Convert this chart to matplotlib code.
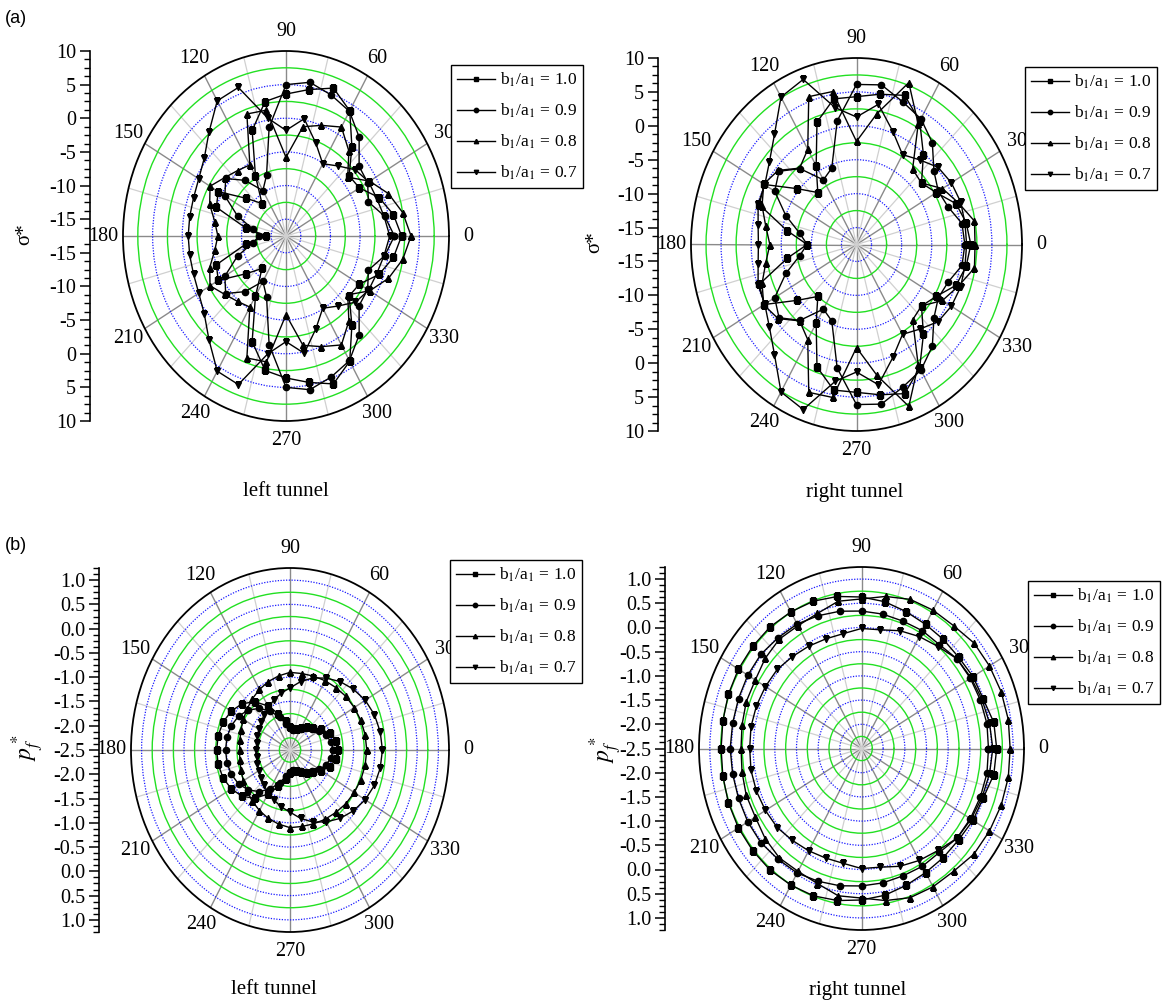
import numpy as np
import matplotlib
matplotlib.use('Agg')
import matplotlib.pyplot as plt

plt.rcParams['font.family'] = ['Liberation Serif', 'DejaVu Serif']
plt.rcParams['mathtext.fontset'] = 'stix'

W, H = 1163, 1001

# angles (upper half, curves are symmetric about 0-180)
angles = list(range(0, 181, 10))

# (a) sigma*, left tunnel
aL_10 = [2.0, 0.9, -0.8, -3.2, -3.6, -0.2, 4.0, 5.9, 4.6, 3.6, 2.8, -0.8, -7.2, -11.2, -8.8, -4.3, -5.0, -10.6, -14.2]
aL_09 = [0.8, -0.6, -2.7, -1.6, -1.4, 1.7, 3.9, 4.8, 5.7, 5.0, -1.1, -7.9, -9.7, -6.7, -4.2, -5.6, -8.8, -11.9, -13.0]
aL_08 = [3.6, 2.5, 0.9, -1.2, -3.9, -1.0, 1.2, 0.0, -1.0, -5.8, 1.5, 1.8, -5.3, -4.8, -4.0, -2.7, -3.8, -5.3, -6.0]
aL_07 = [0.0, -0.7, -1.2, -1.4, -2.2, -3.9, -5.1, -2.8, 0.2, -1.8, 0.3, 6.0, 5.7, 2.7, 0.5, -0.5, -0.9, -1.0, -1.0]

# (a) sigma*, right tunnel
aR_10 = [1.5, 1.0, 0.1, -2.2, -3.4, -0.2, 3.5, 5.9, 5.0, 4.3, 4.3, 1.7, -4.1, -7.5, -4.7, 0.2, -0.3, -5.8, -9.3]
aR_09 = [0.5, 0.3, -1.3, -1.8, -0.7, 2.1, 3.9, 4.9, 6.4, 6.1, 1.0, -5.5, -6.5, -2.9, -0.7, -1.8, -5.0, -7.9, -9.3]
aR_08 = [2.2, 2.4, 0.5, -1.0, -3.4, -3.0, 3.0, 7.9, 2.1, -2.3, 5.4, 5.7, -1.3, -2.8, -0.5, 0.3, -0.8, -2.2, -3.1]
aR_07 = [0.8, 0.8, 0.9, 0.7, 0.2, -1.2, -2.2, 0.2, 3.5, 1.3, 3.0, 8.4, 7.6, 3.7, 1.4, 0.1, -0.1, -0.9, -1.2]

# (b) p_f*, left tunnel
bL_10 = [-1.36, -1.40, -1.50, -1.65, -1.78, -1.88, -1.97, -2.03, -2.06, -2.02, -1.90, -1.70, -1.45, -1.20, -1.02, -0.90, -0.82, -0.78, -0.77]
bL_09 = [-1.48, -1.52, -1.60, -1.70, -1.82, -1.92, -2.00, -2.05, -2.08, -2.05, -1.95, -1.78, -1.58, -1.38, -1.22, -1.10, -1.03, -0.99, -0.98]
bL_08 = [-0.69, -0.70, -0.72, -0.75, -0.78, -0.82, -0.85, -0.88, -0.90, -0.90, -0.95, -1.00, -1.06, -1.12, -1.18, -1.23, -1.27, -1.30, -1.31]
bL_07 = [-0.32, -0.34, -0.38, -0.45, -0.55, -0.66, -0.79, -0.92, -1.07, -1.22, -1.31, -1.40, -1.48, -1.55, -1.61, -1.65, -1.68, -1.70, -1.70]

# (b) p_f*, right tunnel
bR_10 = [0.62, 0.60, 0.49, 0.47, 0.43, 0.44, 0.46, 0.51, 0.58, 0.63, 0.69, 0.74, 0.76, 0.78, 0.78, 0.78, 0.77, 0.75, 0.74]
bR_09 = [0.43, 0.44, 0.42, 0.40, 0.38, 0.30, 0.31, 0.30, 0.32, 0.34, 0.38, 0.42, 0.47, 0.49, 0.53, 0.53, 0.52, 0.52, 0.53]
bR_08 = [0.93, 0.94, 0.93, 0.91, 0.89, 0.81, 0.80, 0.78, 0.69, 0.59, 0.59, 0.47, 0.43, 0.45, 0.40, 0.33, 0.33, 0.30, 0.28]
bR_07 = [0.53, 0.50, 0.46, 0.42, 0.38, 0.25, 0.17, 0.09, -0.01, -0.02, -0.09, -0.09, -0.06, -0.02, 0.04, 0.06, 0.08, 0.09, 0.08]

labels = [r'b$_1$/a$_1$ = 1.0', r'b$_1$/a$_1$ = 0.9', r'b$_1$/a$_1$ = 0.8', r'b$_1$/a$_1$ = 0.7']
markers = ['s', 'o', '^', 'v']


def box(l, t, r, b):
    return [l / W, 1 - b / H, (r - l) / W, (b - t) / H]


def full_circle(vals):
    # mirror the upper half onto 190..360
    th = np.deg2rad(angles + [360 - a for a in angles[-2::-1]])
    r = list(vals) + list(vals[-2::-1])
    return th, r


def radial_axis(fig, x, rect, rmin, rmax, major, minor, fmt):
    lax = fig.add_axes([x / W, rect[1], 1e-4, rect[3]])
    R = rmax - rmin
    lax.set_ylim(-R, R)
    lax.set_xticks([])
    for s in ['top', 'right', 'bottom']:
        lax.spines[s].set_visible(False)
    lax.spines['left'].set_linewidth(1.2)
    vals = np.arange(np.ceil(rmin / major - 1e-9) * major, rmax + 1e-9, major)
    pos, labs = [], []
    for v in vals:
        d = v - rmin
        txt = fmt(0.0 if abs(v) < 1e-9 else v)
        if d < 1e-9:
            pos.append(0.0)
            labs.append(txt)
        else:
            pos += [d, -d]
            labs += [txt, txt]
    lax.set_yticks(pos)
    lax.set_yticklabels(labs)
    k = np.arange(1, int(round(R / minor)) + 1) * minor
    lax.set_yticks(np.concatenate([k, -k]), minor=True)
    lax.tick_params(axis='y', which='major', direction='out', length=7, width=1.1, labelsize=14.5, pad=3)
    lax.tick_params(axis='y', which='minor', direction='out', length=4, width=1.0)
    return lax


def panel(fig, rect, axis_x, rmin, rmax, major, minor, fmt, data, leg_xy):
    ax = fig.add_axes(rect, projection='polar')
    ax.set_aspect('auto')
    ax.set_ylim(rmin, rmax)
    ax.set_axisbelow(True)

    ax.set_xticks(np.deg2rad(np.arange(0, 360, 30)))
    ax.set_xticklabels([str(a) for a in range(0, 360, 30)], fontsize=14.5)
    ax.set_xticks(np.deg2rad(np.arange(15, 360, 30)), minor=True)
    ax.xaxis.grid(True, which='major', color='#8a8a8a', lw=1.0)
    ax.xaxis.grid(True, which='minor', color='#d0d0d0', lw=0.9)
    ax.tick_params(axis='x', which='major', direction='out', length=4, pad=3)
    ax.tick_params(axis='x', which='minor', length=0)

    big = np.arange(np.ceil(rmin / major + 1e-9) * major, rmax - 1e-9, major)
    small = np.arange(np.floor(rmin / major) * major + major / 2, rmax - 1e-9, major)
    small = small[small > rmin + 1e-9]
    ax.set_yticks(big)
    ax.set_yticks(small, minor=True)
    ax.set_yticklabels([])
    ax.yaxis.grid(True, which='major', color='#1a1aff', ls=(0, (1, 1.2)), lw=0.9)
    ax.yaxis.grid(True, which='minor', color='#22e022', lw=1.0)
    ax.tick_params(axis='y', which='both', length=0)
    ax.spines['polar'].set_linewidth(1.3)

    for vals, m, lab in zip(data, markers, labels):
        th, r = full_circle(vals)
        ax.plot(th, r, color='black', lw=1.0, marker=m, ms=4.5, label=lab)

    leg = ax.legend(loc='upper left', bbox_to_anchor=(leg_xy[0] / W, 1 - leg_xy[1] / H),
                    bbox_transform=fig.transFigure, fontsize=12.5, fancybox=False,
                    edgecolor='black', framealpha=1, borderaxespad=0, handlelength=2.2,
                    handletextpad=0.25, labelspacing=0.72, borderpad=0.35, markerscale=0.7)
    leg.get_frame().set_linewidth(1.0)

    radial_axis(fig, axis_x, rect, rmin, rmax, major, minor, fmt)
    return ax


fig = plt.figure(figsize=(W / 100, H / 100), dpi=100)

fa = lambda v: '%d' % v
fb = lambda v: '%.1f' % v

panel(fig, box(123, 51, 449, 421), 90, -17.5, 10, 5, 1.25, fa, [aL_10, aL_09, aL_08, aL_07], (451, 65))
panel(fig, box(691, 58, 1022, 431), 658, -17.5, 10, 5, 1.25, fa, [aR_10, aR_09, aR_08, aR_07], (1025, 67))
panel(fig, box(131, 568, 449, 932), 99, -2.5, 1.25, 0.5, 0.125, fb, [bL_10, bL_09, bL_08, bL_07], (450, 560))
panel(fig, box(699, 567, 1024, 930), 665, -2.5, 1.25, 0.5, 0.125, fb, [bR_10, bR_09, bR_08, bR_07], (1028, 581))

fig.text(5 / W, 1 - 18 / H, '(a)', fontsize=13, family='Liberation Sans', va='center', ha='left')
fig.text(5 / W, 1 - 545 / H, '(b)', fontsize=13, family='Liberation Sans', va='center', ha='left')

fig.text(25 / W, 1 - 234 / H, 'σ*', fontsize=15, rotation=90, ha='center', va='center')
fig.text(595 / W, 1 - 242 / H, 'σ*', fontsize=15, rotation=90, ha='center', va='center')
fig.text(28 / W, 1 - 748 / H, r'$p_f^*$', fontsize=17, rotation=90, ha='center', va='center')
fig.text(606 / W, 1 - 750 / H, r'$p_f^*$', fontsize=17, rotation=90, ha='center', va='center')

fig.text(286 / W, 1 - 492 / H, 'left tunnel', fontsize=15, ha='center', va='center')
fig.text(855 / W, 1 - 492 / H, 'right tunnel', fontsize=15, ha='center', va='center')
fig.text(274 / W, 1 - 990 / H, 'left tunnel', fontsize=15, ha='center', va='center')
fig.text(858 / W, 1 - 990 / H, 'right tunnel', fontsize=15, ha='center', va='center')

fig.savefig('out.png', dpi=100)
